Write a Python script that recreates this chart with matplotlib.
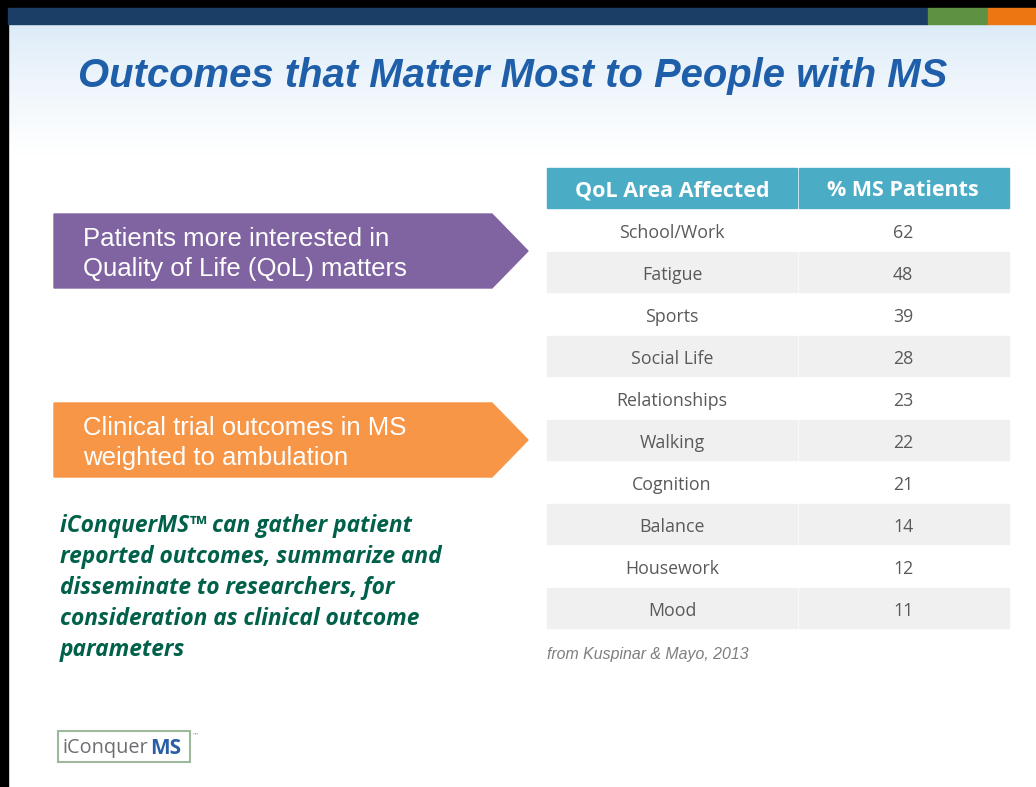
import numpy as np
import matplotlib
matplotlib.use('Agg')
from matplotlib import pyplot as plt
from matplotlib.patches import Rectangle, Polygon

# table data
areas = ['School/Work', 'Fatigue', 'Sports', 'Social Life', 'Relationships',
         'Walking', 'Cognition', 'Balance', 'Housework', 'Mood']
pct = [62, 48, 39, 28, 23, 22, 21, 14, 12, 11]
headers = ['QoL Area Affected', '% MS Patients']

title = 'Outcomes that Matter Most to People with MS'
arrow_texts = ['Patients more interested in\nQuality of Life (QoL) matters',
               'Clinical trial outcomes in MS\nweighted to ambulation']
note_lines = ['iConquerMS\u2122 can gather patient',
              'reported outcomes, summarize and',
              'disseminate to researchers, for',
              'consideration as clinical outcome',
              'parameters']
source = 'from Kuspinar & Mayo, 2013'

W, H = 1036, 787
fig = plt.figure(figsize=(W / 100, H / 100), dpi=100)
ax = fig.add_axes([0, 0, 1, 1])
ax.set_xlim(0, W)
ax.set_ylim(H, 0)
ax.axis('off')

# background: black frame, top bar and light gradient
ax.add_patch(Rectangle((0, 0), W, H, color='white', zorder=0))
grad = np.linspace(0, 1, 200).reshape(-1, 1)
top_col = np.array([0.86, 0.92, 0.97])
img = top_col + (1 - top_col) * grad[..., None] ** 0.8
ax.imshow(img, extent=(8, W, 155, 24), aspect='auto', zorder=0.5)
ax.add_patch(Rectangle((0, 0), W, 8, color='black', zorder=1))
ax.add_patch(Rectangle((0, 0), 8, H, color='black', zorder=1))
ax.add_patch(Rectangle((8, 8), 920, 16, color='#1B3E66', zorder=1))
ax.add_patch(Rectangle((928, 8), 60, 16, color='#5E9142', zorder=1))
ax.add_patch(Rectangle((988, 8), 48, 16, color='#EC7611', zorder=1))

ax.text(513, 76, title, ha='center', va='center', fontsize=28.8,
        fontweight='bold', style='italic', color='#1F5FAA',
        family='Liberation Sans')

# table
tx, tmid, tr = 547, 797, 1009
hy, hh = 168, 40
rh = 42
ax.add_patch(Rectangle((tx, hy), tmid - tx, hh, color='#4BACC6', zorder=2))
ax.add_patch(Rectangle((tmid + 2, hy), tr - tmid - 2, hh, color='#4BACC6', zorder=2))
for i, h in enumerate(headers):
    cx = (tx + tmid) / 2 if i == 0 else (tmid + tr) / 2
    ax.text(cx, hy + hh / 2 + 3, h, ha='center', va='center', fontsize=15.5,
            fontweight='bold', color='white', family='Open Sans')
for i, (a, p) in enumerate(zip(areas, pct)):
    y0 = hy + hh + 2 + i * rh
    fc = 'white' if i % 2 == 0 else '#F0F0F0'
    ax.add_patch(Rectangle((tx, y0), tmid - tx, rh - 2, color=fc, zorder=2))
    ax.add_patch(Rectangle((tmid + 2, y0), tr - tmid - 2, rh - 2, color=fc, zorder=2))
    ax.text((tx + tmid) / 2, y0 + rh / 2 + 2, a, ha='center', va='center',
            fontsize=12.8, color='#595959', family='Open Sans')
    ax.text((tmid + tr) / 2, y0 + rh / 2 + 2, str(p), ha='center', va='center',
            fontsize=12.8, color='#595959', family='Open Sans')

ax.text(tx, 655, source, ha='left', va='center', fontsize=11.4,
        style='italic', color='#7F7F7F', family='Liberation Sans')

# arrows
for (top, col), txt in zip([(214, '#8064A2'), (403, '#F79646')], arrow_texts):
    bot = top + 74
    pts = [(54, top), (492, top), (528, (top + bot) / 2), (492, bot), (54, bot)]
    ax.add_patch(Polygon(pts, closed=True, color=col, zorder=2))
    l1, l2 = txt.split('\n')
    ax.text(83, top + 25, l1, ha='left', va='center', fontsize=18.5,
            color='white', family='Liberation Sans')
    ax.text(83, top + 55, l2, ha='left', va='center', fontsize=18.5,
            color='white', family='Liberation Sans')

# green note
for i, line in enumerate(note_lines):
    ax.text(60, 526 + i * 31, line, ha='left', va='center', fontsize=16.4,
            fontweight='bold', style='italic', color='#00604A',
            family='Open Sans')

# logo
ax.add_patch(Rectangle((58, 731), 132, 31, fill=False, edgecolor='#9DB89A',
                       lw=1.5, zorder=2))
ax.text(63, 748, 'iConquer', ha='left', va='center', fontsize=14.3,
        color='#6D6E71', family='Open Sans')
ax.text(150, 748, 'MS', ha='left', va='center', fontsize=15,
        fontweight='bold', color='#2A5FA5', family='Open Sans')
ax.text(192, 735, '\u2122', ha='left', va='center', fontsize=5,
        color='#999999')

fig.savefig('out.png', dpi=100)
